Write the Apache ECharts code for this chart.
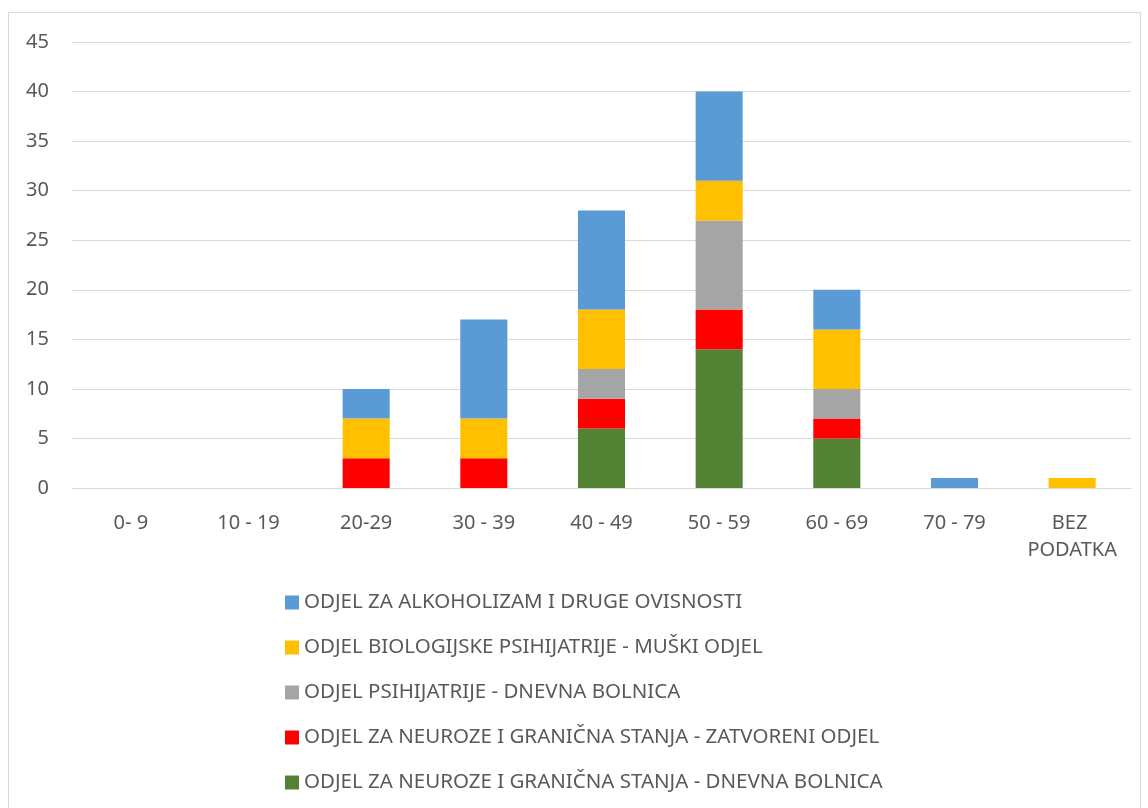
<!DOCTYPE html>
<html>
<head>
<meta charset="utf-8">
<script src="https://cdn.jsdelivr.net/npm/echarts@6/dist/echarts.min.js"></script>
<style>
    html, body { margin: 0; padding: 0; background: #fff; }
    #frame { position: absolute; left: 8px; top: 12px; width: 1131px; height: 810px; border: 1px solid #d9d9d9; }
    #chart { position: absolute; left: 0; top: 0; width: 1148px; height: 808px; }
</style>
</head>
<body>
<div id="frame"></div>
<div id="chart"></div>
<script>
const categories = ['0- 9', '10 - 19', '20-29', '30 - 39', '40 - 49', '50 - 59', '60 - 69', '70 - 79', 'BEZ PODATKA']
const seriesNames = [
    'ODJEL ZA NEUROZE I GRANIČNA STANJA - DNEVNA BOLNICA',
    'ODJEL ZA NEUROZE I GRANIČNA STANJA - ZATVORENI ODJEL',
    'ODJEL PSIHIJATRIJE - DNEVNA BOLNICA',
    'ODJEL BIOLOGIJSKE PSIHIJATRIJE - MUŠKI ODJEL',
    'ODJEL ZA ALKOHOLIZAM I DRUGE OVISNOSTI'
]
const neurozeDnevna = [0, 0, 0, 0, 6, 14, 5, 0, 0]
const neurozeZatvoreni = [0, 0, 3, 3, 3, 4, 2, 0, 0]
const psihijatrijaDnevna = [0, 0, 0, 0, 3, 9, 3, 0, 0]
const biologijskaMuski = [0, 0, 4, 4, 6, 4, 6, 0, 1]
const alkoholizam = [0, 0, 3, 10, 10, 9, 4, 1, 0]
const seriesData = [neurozeDnevna, neurozeZatvoreni, psihijatrijaDnevna, biologijskaMuski, alkoholizam]
const colors = ['#548235', '#FF0000', '#A5A5A5', '#FFC000', '#5B9BD5']

const font = 'Noto Sans'
const textColor = '#595959'
const fontSize = 20

let chart = echarts.init(document.getElementById('chart'))
let option = {
    animation: false,
    textStyle: { fontFamily: font },
    grid: { left: 72, right: 17, top: 42, bottom: 320 },
    legend: {
        orient: 'vertical',
        left: 285,
        top: 592,
        padding: 0,
        itemWidth: 14,
        itemHeight: 14,
        itemGap: 24,
        icon: 'rect',
        data: seriesNames.slice().reverse(),
        textStyle: { fontFamily: font, fontSize: 20.5, color: textColor, lineHeight: 21 }
    },
    xAxis: {
        type: 'category',
        data: categories,
        axisLine: { lineStyle: { color: '#d9d9d9' } },
        axisTick: { show: false },
        axisLabel: {
            interval: 0,
            fontFamily: font, fontSize: fontSize, color: textColor, margin: 22,
            lineHeight: 27, width: 100, overflow: 'break'
        }
    },
    yAxis: {
        type: 'value',
        min: 0,
        max: 45,
        interval: 5,
        axisLine: { show: false },
        axisTick: { show: false },
        splitLine: { lineStyle: { color: '#d9d9d9' } },
        axisLabel: { fontFamily: font, fontSize: fontSize, color: textColor, margin: 23 }
    },
    series: seriesNames.map((name, i) => ({
        name: name,
        type: 'bar',
        stack: 'total',
        barWidth: '40%',
        itemStyle: { color: colors[i] },
        data: seriesData[i]
    }))
}
chart.setOption(option)
</script>
</body>
</html>
